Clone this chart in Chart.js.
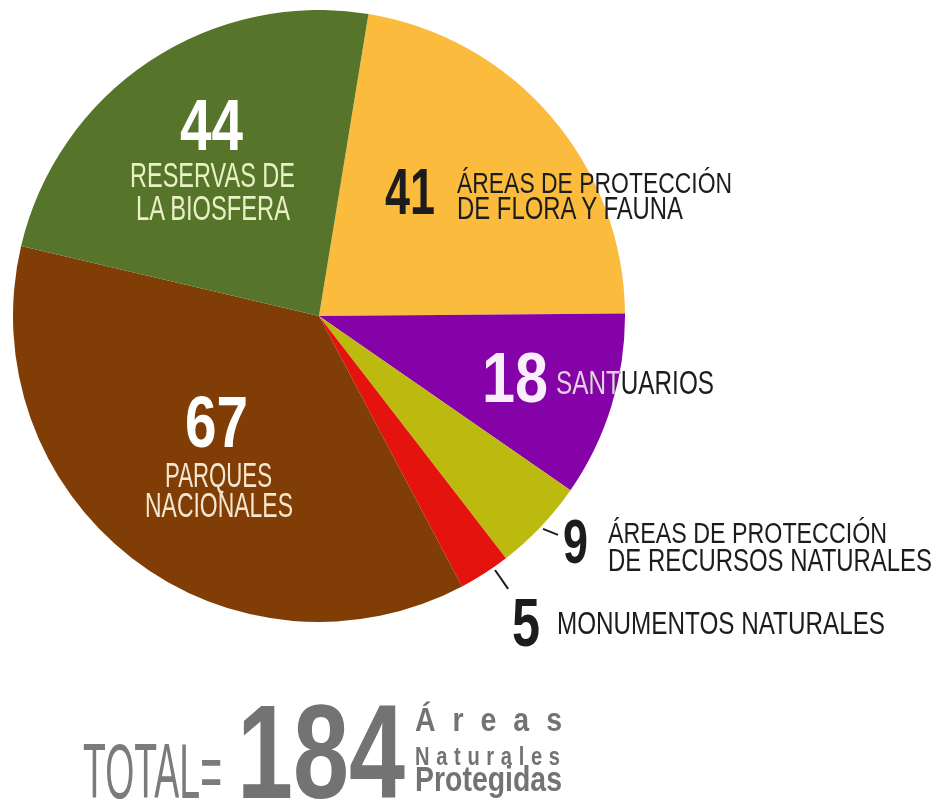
<!DOCTYPE html>
<html>
<head>
<meta charset="utf-8">
<script src="https://cdn.jsdelivr.net/npm/chart.js@4"></script>
<style>
body { margin: 0; background: #fff; width: 938px; height: 804px; overflow: hidden; position: relative;
       font-family: "Liberation Sans", Arial, sans-serif; }
#pie { position: absolute; left: 13px; top: 10px; }
.t { position: absolute; white-space: nowrap; line-height: 1; transform-origin: 0 0; }
#capa, #dentro { position: absolute; left: 0; top: 0; width: 938px; height: 804px; }
#dentro { clip-path: circle(306px at 319px 316px); }
</style>
</head>
<body>
<canvas id="pie" width="612" height="612"></canvas>
<div id="capa"></div>
<div id="dentro"></div>
<script>
// datos
const nombres = [
    ['ÁREAS DE PROTECCIÓN', 'DE FLORA Y FAUNA'],
    ['SANTUARIOS'],
    ['ÁREAS DE PROTECCIÓN', 'DE RECURSOS NATURALES'],
    ['MONUMENTOS NATURALES'],
    ['PARQUES', 'NACIONALES'],
    ['RESERVAS DE', 'LA BIOSFERA']
];
const valores = [41, 18, 9, 5, 67, 44];
const colores = ['#fbbc3e', '#8502a8', '#bdba0f', '#e4130e', '#803e06', '#57752a'];
const totalTexto = ['Áreas', 'Naturales', 'Protegidas'];

const categorias = nombres.map(function (n) { return n.join(' '); });
const total = valores.reduce(function (a, b) { return a + b; }, 0);

// lineas guia de los sectores pequeños
const guias = {
    id: 'guias',
    afterDatasetsDraw: function (chart) {
        const arcs = chart.getDatasetMeta(0).data;
        const ctx = chart.ctx;
        ctx.save();
        ctx.strokeStyle = '#1c1c1c';
        ctx.lineWidth = 2;
        // 9
        let a = arcs[2];
        let m = (a.startAngle + a.endAngle) / 2;
        let x0 = a.x + Math.cos(m) * (a.outerRadius + 3);
        let y0 = a.y + Math.sin(m) * (a.outerRadius + 3);
        ctx.beginPath();
        ctx.moveTo(x0, y0);
        ctx.lineTo(x0 + 15, y0 + 6);
        ctx.stroke();
        // 5
        a = arcs[3];
        m = a.startAngle + 0.3 * (a.endAngle - a.startAngle);
        ctx.beginPath();
        ctx.moveTo(a.x + Math.cos(m) * (a.outerRadius + 3), a.y + Math.sin(m) * (a.outerRadius + 3));
        ctx.lineTo(a.x + Math.cos(m) * (a.outerRadius + 26), a.y + Math.sin(m) * (a.outerRadius + 26));
        ctx.stroke();
        ctx.restore();
    }
};

new Chart(document.getElementById('pie'), {
    type: 'pie',
    data: {
        labels: categorias,
        datasets: [{
            data: valores,
            backgroundColor: colores,
            borderWidth: 0,
            hoverOffset: 0
        }]
    },
    options: {
        responsive: false,
        animation: false,
        rotation: 9.3,
        events: [],
        layout: { padding: 0 },
        plugins: { legend: { display: false }, tooltip: { enabled: false } }
    },
    plugins: [guias]
});

// texto: x, tope de mayusculas, alto de mayusculas, ancho
function poner(padre, texto, x, cap, alto, ancho, o) {
    o = o || {};
    const fs = alto / 0.716;
    const el = document.createElement('span');
    el.className = 't';
    el.textContent = texto;
    el.style.fontSize = fs + 'px';
    el.style.fontWeight = o.peso || 'normal';
    el.style.color = o.color || '#1c1c1c';
    el.style.left = x + 'px';
    el.style.top = (cap - 0.13 * fs) + 'px';
    padre.appendChild(el);
    const nat = el.getBoundingClientRect().width;
    if (o.ls) {
        const sp = (ancho / o.ls - nat) / (texto.length - 1);
        el.style.letterSpacing = sp + 'px';
        el.style.transform = 'scaleX(' + o.ls + ')';
    } else {
        el.style.transform = 'scaleX(' + (ancho / nat) + ')';
    }
}

const capa = document.getElementById('capa');
const dentro = document.getElementById('dentro');

// 44 reservas
poner(capa, String(valores[5]), 180, 98, 52, 63, { peso: 'bold', color: '#fff' });
poner(capa, nombres[5][0], 130, 163, 25, 165, { color: '#eaf0c6' });
poner(capa, nombres[5][1], 136, 196, 25, 154, { color: '#eaf0c6' });
// 41 flora y fauna
poner(capa, String(valores[0]), 385, 168, 47, 50, { peso: 'bold' });
poner(capa, nombres[0][0], 457, 172, 21, 275);
poner(capa, nombres[0][1], 457, 198, 22, 226);
// 18 santuarios
poner(capa, String(valores[1]), 482, 353, 50, 66, { peso: 'bold', color: '#fbeefb' });
poner(capa, nombres[1][0], 556, 370, 24, 158);
poner(dentro, nombres[1][0], 556, 370, 24, 158, { color: '#ecccf0' });
// 9 recursos naturales
poner(capa, String(valores[2]), 563, 518, 45, 25, { peso: 'bold' });
poner(capa, nombres[2][0], 608, 522, 21, 279);
poner(capa, nombres[2][1], 608, 550, 22, 324);
// 5 monumentos
poner(capa, String(valores[3]), 512, 598, 49, 28, { peso: 'bold' });
poner(capa, nombres[3][0], 557, 613, 22, 328);
// 67 parques
poner(capa, String(valores[4]), 185, 395, 52, 63, { peso: 'bold', color: '#fff' });
poner(capa, nombres[4][0], 165, 463, 25, 107, { color: '#f5e6cf' });
poner(capa, nombres[4][1], 145, 493, 25, 148, { color: '#f5e6cf' });
// total
const gris = '#737373';
poner(capa, 'TOTAL=', 83, 742, 56, 139, { color: '#7b7b7b' });
poner(capa, String(total), 237, 702, 96, 168, { peso: 'bold', color: gris });
poner(capa, totalTexto[0], 415, 707, 24, 147, { peso: 'bold', color: gris, ls: 0.85 });
poner(capa, totalTexto[1], 415, 747, 18, 145, { peso: 'bold', color: gris, ls: 0.8 });
poner(capa, totalTexto[2], 415, 767, 25, 147, { peso: 'bold', color: gris });
</script>
</body>
</html>
